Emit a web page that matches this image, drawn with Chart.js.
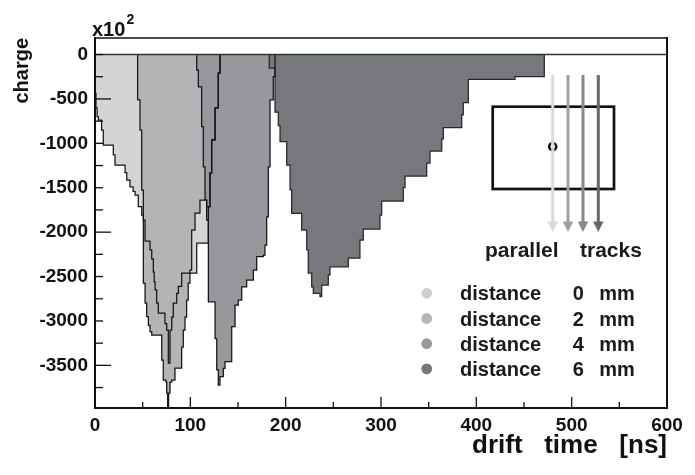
<!DOCTYPE html>
<html>
<head>
<meta charset="utf-8">
<script src="https://cdn.jsdelivr.net/npm/chart.js@4.4.1/dist/chart.umd.min.js"></script>
<style>
html,body{margin:0;padding:0;background:#ffffff;overflow:hidden;}
#box{position:relative;width:695px;height:475px;}
canvas{display:block;}
</style>
</head>
<body>
<div id="box"><canvas id="chart" width="695" height="475"></canvas></div>
<script>
// ---------------- data (drift time in ns, charge in units of 10^2) ----------------
const legendText = 'distance';
const legendNumbers = ['0', '2', '4', '6'];
const legendUnit = 'mm';

// distance 0 mm : bin start times and contents
const t0 = [0, 1.0, 2.2, 3.5, 6.9, 8.7, 19.2, 21.0, 31.5, 33.3, 36.7, 40.0, 42.0, 45.4, 49.0, 50.7,
            52.5, 57.7, 59.5, 61.2, 62.1, 63.0, 64.7, 66.4, 73.4, 75.2, 76.9, 78.7, 80.5, 82.1, 85.7,
            87.4, 90.9, 106.7, 118.9, 120.6, 122.4, 125.9, 129.3];
const q0 = [-437, -600, -700, -740, -850, -1020, -1130, -1244, -1330, -1413, -1489, -1540, -1582, -1714, -1807, -1864,
            -2100, -2200, -2300, -2450, -2560, -2650, -2800, -2911, -3030, -3102, -3474, -3102, -2956, -2800, -2690,
            -2610, -2461, -2123, -1714, -1335, -962, -600, -210];
const end0 = 131.1;

// distance 2 mm
const t1 = [44.7, 47.2, 49.0, 50.7, 52.5, 54.2, 56.0, 57.7, 59.5, 70.0, 71.6, 74.4, 75.2, 76.2, 77.2, 78.7,
            80.5, 83.9, 90.9, 92.6, 94.4, 96.1, 97.8, 99.6, 101.4, 104.9, 110.1, 117.1, 120.6, 122.4, 125.9, 129.3];
const q1 = [-512, -850, -1526, -2573, -2798, -2950, -3050, -3120, -3159, -3440, -3666, -3688, -3812, -4150, -3812, -3688,
            -3666, -3530, -3294, -3102, -2956, -2764, -2573, -2427, -1976, -1785, -1639, -1714, -1335, -962, -600, -210];
const end1 = 131.1;

// distance 4 mm
const t2 = [106.7, 108.4, 111.9, 113.6, 115.4, 117.1, 118.9, 125.9, 127.7, 129.3, 131.1, 134.6, 136.4, 143.4,
            146.9, 150.3, 153.9, 159.1, 166.1, 169.6, 176.5, 178.3, 180.1, 181.8, 183.6, 187.0];
const q2 = [-175, -363, -813, -1264, -1639, -1864, -2784, -3200, -3550, -3722, -3628, -3534, -3459, -3065,
            -2821, -2765, -2615, -2539, -2427, -2277, -2258, -2145, -1827, -1264, -512, -250];
const end2 = 188.8;

// distance 6 mm
const t3 = [182.8, 188.8, 192.3, 194.1, 201.1, 204.6, 206.3, 216.8, 222.1, 223.7, 227.3, 229.0, 236.0, 237.8,
            244.7, 246.5, 265.7, 277.9, 281.4, 298.9, 300.7, 323.4, 325.2, 347.9, 351.4, 363.7, 365.4, 384.7,
            386.3, 391.6, 440.6];
const q3 = [-152, -650, -800, -982, -1244, -1525, -1788, -1976, -2200, -2461, -2615, -2689, -2727, -2596,
            -2480, -2390, -2292, -2089, -1965, -1807, -1650, -1500, -1368, -1222, -1087, -950, -822, -680,
            -541, -279, -248];
const end3 = 471.3;

const xTickValues = [0, 100, 200, 300, 400, 500, 600];
const xMinorTicks = [50, 150, 250, 350, 450, 550];
const yTickValues = [0, -500, -1000, -1500, -2000, -2500, -3000, -3500];
const yLongTicks = [-500, -2000, -3500];
const yMinorTicks = [0, -250, -750, -1000, -1250, -1500, -1750, -2250, -2500, -2750, -3000, -3250, -3750];

// ---------------- styles ----------------
const FONT = "'Liberation Sans', Arial, Helvetica, sans-serif";
Chart.defaults.font.family = FONT;
const fillColors = ['#d4d4d6', '#b4b4b6', '#98989c', '#77787c'];
const dotColors = ['#d0d0d2', '#b6b6b8', '#99999b', '#77787a'];
const trackColors = ['#dadadc', '#a0a0a2', '#88888a', '#68686a'];

function steps(t, q, end) {
  const pts = [{x: t[0], y: 0}];
  for (let i = 0; i < t.length; i++) pts.push({x: t[i], y: q[i]});
  pts.push({x: end, y: 0});
  return pts;
}
const hists = [steps(t0, q0, end0), steps(t1, q1, end1), steps(t2, q2, end2), steps(t3, q3, end3)];

const common = {stepped: true, pointRadius: 0, pointHoverRadius: 0, tension: 0, clip: 0,
                borderJoinStyle: 'miter', borderCapStyle: 'butt'};
const datasets = [];
datasets.push(Object.assign({}, common, {data: [{x: 0, y: 0}, {x: 600, y: 0}], borderColor: '#2a392a',
               borderWidth: 1.6, fill: false, order: 0}));
hists.forEach((h, i) => datasets.push(Object.assign({}, common, {data: h, borderColor: i === 3 ? '#262626' : '#141414',
               borderWidth: 1.25, fill: false, order: 1 + i})));
hists.forEach((h, i) => datasets.push(Object.assign({}, common, {data: h, backgroundColor: fillColors[i],
               borderColor: 'rgba(0,0,0,0)', borderWidth: 0, fill: 'origin', order: 8 - i})));

// ---------------- plugins ----------------
const framePlugin = {
  id: 'rootFrame',
  afterDraw(chart) {
    const {ctx, chartArea: a, scales: {x, y}} = chart;
    ctx.save();
    ctx.strokeStyle = '#111';
    ctx.lineCap = 'square';
    ctx.lineWidth = 2;
    ctx.beginPath();
    ctx.moveTo(a.left, a.top); ctx.lineTo(a.left, a.bottom); ctx.lineTo(a.right, a.bottom); ctx.lineTo(a.right, a.top);
    ctx.stroke();
    ctx.lineWidth = 1.5;
    ctx.beginPath(); ctx.moveTo(a.left, a.top); ctx.lineTo(a.right, a.top); ctx.stroke();
    ctx.lineCap = 'butt';
    ctx.lineWidth = 1.3;
    xTickValues.forEach(v => { const p = x.getPixelForValue(v); ctx.beginPath(); ctx.moveTo(p, a.bottom); ctx.lineTo(p, a.bottom - 11); ctx.stroke(); });
    xMinorTicks.forEach(v => { const p = x.getPixelForValue(v); ctx.beginPath(); ctx.moveTo(p, a.bottom); ctx.lineTo(p, a.bottom - 6); ctx.stroke(); });
    yLongTicks.forEach(v => { const p = y.getPixelForValue(v); ctx.beginPath(); ctx.moveTo(a.left, p); ctx.lineTo(a.left + 16, p); ctx.stroke(); });
    yMinorTicks.forEach(v => { const p = y.getPixelForValue(v); ctx.beginPath(); ctx.moveTo(a.left, p); ctx.lineTo(a.left + 8, p); ctx.stroke(); });
    // exponent label
    ctx.fillStyle = '#111';
    ctx.textBaseline = 'alphabetic';
    ctx.textAlign = 'left';
    ctx.font = 'bold 20px ' + FONT;
    ctx.fillText('x10', a.left - 3, a.top - 2.5);
    ctx.font = 'bold 14px ' + FONT;
    ctx.fillText('2', a.left + 31.5, a.top - 14);
    ctx.restore();
  }
};

const insetPlugin = {
  id: 'inset',
  afterDatasetsDraw(chart) {
    const {ctx, chartArea: a} = chart;
    const ox = a.left, oy = a.top;
    ctx.save();
    // drift cell
    ctx.strokeStyle = '#111';
    ctx.lineWidth = 2.7;
    ctx.strokeRect(ox + 397.7, oy + 68.7, 121.3, 82.3);
    // wire
    ctx.lineWidth = 2.4;
    ctx.beginPath(); ctx.arc(ox + 457.7, oy + 108.7, 3.6, 0, Math.PI * 2); ctx.stroke();
    // tracks
    const trackX = [457.7, 473.0, 488.0, 503.3];
    trackX.forEach((tx, i) => {
      ctx.strokeStyle = trackColors[i];
      ctx.fillStyle = trackColors[i];
      ctx.lineWidth = 3;
      ctx.beginPath(); ctx.moveTo(ox + tx, oy + 37); ctx.lineTo(ox + tx, oy + 186); ctx.stroke();
      ctx.beginPath();
      ctx.moveTo(ox + tx - 5.2, oy + 183.5); ctx.lineTo(ox + tx + 5.2, oy + 183.5); ctx.lineTo(ox + tx, oy + 194);
      ctx.closePath(); ctx.fill();
    });
    ctx.fillStyle = '#1a1a1a';
    ctx.font = 'bold 21px ' + FONT;
    ctx.textBaseline = 'alphabetic';
    ctx.textAlign = 'left';
    ctx.fillText('parallel', ox + 390, oy + 219);
    ctx.fillText('tracks', ox + 485, oy + 219);
    // legend
    ctx.font = 'bold 20px ' + FONT;
    legendNumbers.forEach((n, i) => {
      const cy = oy + 255.3 + i * 25.2;
      ctx.fillStyle = dotColors[i];
      ctx.beginPath(); ctx.arc(ox + 331.7, cy, 5.4, 0, Math.PI * 2); ctx.fill();
      ctx.fillStyle = '#1a1a1a';
      ctx.textAlign = 'left';
      ctx.fillText(legendText, ox + 365, cy + 7);
      ctx.textAlign = 'center';
      ctx.fillText(n, ox + 483.3, cy + 7);
      ctx.textAlign = 'left';
      ctx.fillText(legendUnit, ox + 504.3, cy + 7);
    });
    ctx.restore();
  }
};

new Chart(document.getElementById('chart'), {
  type: 'line',
  data: {datasets},
  options: {
    responsive: false,
    animation: false,
    devicePixelRatio: 1,
    layout: {padding: {top: 38, right: 28, bottom: 0, left: 0}},
    plugins: {legend: {display: false}, tooltip: {enabled: false}},
    scales: {
      x: {
        type: 'linear', min: 0, max: 600,
        afterFit(s) { s.height = 67; },
        afterBuildTicks(s) { s.ticks = xTickValues.map(v => ({value: v})); },
        grid: {display: false, drawTicks: false},
        border: {display: false},
        ticks: {autoSkip: false, maxRotation: 0, padding: 6, color: '#111',
                font: {size: 19, weight: 'bold'},
                callback: v => String(v)},
        title: {display: true, text: 'drift   time   [ns]', align: 'end', color: '#111',
                font: {size: 26, weight: 'bold'}, padding: {top: 0, bottom: 14}}
      },
      y: {
        type: 'linear', min: -3980, max: 186,
        afterFit(s) { s.width = 95; },
        afterBuildTicks(s) { s.ticks = yTickValues.map(v => ({value: v})); },
        grid: {display: false, drawTicks: false},
        border: {display: false},
        ticks: {autoSkip: false, padding: 7, color: '#111',
                font: {size: 19, weight: 'bold'},
                callback: v => String(v)},
        title: {display: true, text: 'charge', align: 'end', color: '#111',
                font: {size: 20, weight: 'bold'}, padding: {top: 10, bottom: 0}}
      }
    }
  },
  plugins: [insetPlugin, framePlugin]
});
</script>
</body>
</html>
